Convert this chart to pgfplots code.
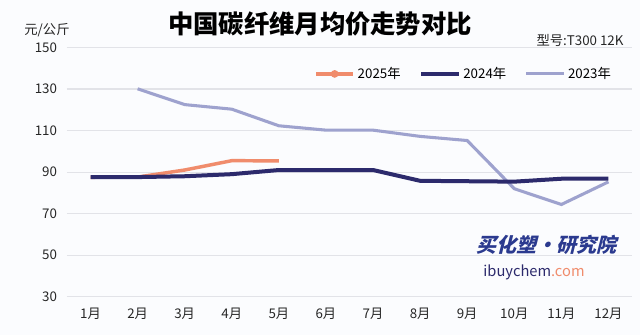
\documentclass[border=0pt]{standalone}
\usepackage{fontspec}
\setmainfont{Noto Sans CJK SC}
\usepackage{pgfplots}
\pgfplotsset{compat=1.18}
\definecolor{c25}{HTML}{F08C6C}
\definecolor{c24}{HTML}{2C2A6C}
\definecolor{c23}{HTML}{9EA2CE}
\definecolor{gridc}{HTML}{E2E3E8}
\definecolor{bg}{HTML}{FBFCFE}
\definecolor{wmblue}{HTML}{2B3A8F}
\begin{document}
\begin{tikzpicture}
\fill[bg] (0pt,0pt) rectangle (480pt,251.25pt);
\begin{axis}[
  at={(50.25pt,28.725pt)}, anchor=south west,
  width=423.75pt, height=186.9pt, scale only axis,
  xmin=0.5, xmax=12.5, ymin=30, ymax=150,
  xtick={1,...,12},
  xticklabels={1月,2月,3月,4月,5月,6月,7月,8月,9月,10月,11月,12月},
  ytick={30,50,70,90,110,130,150},
  axis line style={draw=none}, tick style={draw=none},
  ymajorgrids, grid style={gridc, line width=0.8pt},
  tick label style={font=\fontsize{10}{12}\selectfont, text=black!85},
  xticklabel style={yshift=-5pt},
  yticklabel style={xshift=-4pt},
  /pgf/number format/assume math mode=true,
  legend style={at={(0.975,0.894)}, anchor=east, draw=none, fill=none,
    font=\fontsize{10}{12}\selectfont, legend columns=3,
    /tikz/every even column/.append style={column sep=12pt}},
  legend image code/.code={\draw[mark repeat=2,mark phase=2,#1] plot coordinates {(0pt,0pt) (14pt,0pt) (28pt,0pt)};},
]
\addlegendimage{c25, line width=2.6pt, mark=*, mark size=1.5pt}
\addlegendentry{2025年}
\addlegendimage{c24, line width=3pt}
\addlegendentry{2024年}
\addlegendimage{c23, line width=2.3pt}
\addlegendentry{2023年}
\addplot[forget plot, c23, line width=2.3pt] coordinates {
 (2,130.1) (3,122.5) (4,120.3) (5,112.3) (6,110.2) (7,110.2) (8,107.2) (9,105.2) (10,82) (11,74.4) (12,85.3)};
\addplot[forget plot, c25, line width=2.6pt] coordinates {
 (1,87.5) (2,87.6) (3,91) (4,95.5) (5,95.4)};
\addplot[forget plot, c24, line width=3pt] coordinates {
 (1,87.6) (2,87.6) (3,88) (4,89) (5,91) (6,91) (7,91) (8,85.8) (9,85.6) (10,85.4) (11,86.8) (12,86.8)};
\end{axis}
\node[font=\bfseries\fontsize{19}{22}\selectfont, text=black] at (240pt,233.5pt) {中国碳纤维月均价走势对比};
\node[font=\fontsize{10}{12}\selectfont, text=black!85] at (35.25pt,228.75pt) {元/公斤};
\node[font=\fontsize{10}{12}\selectfont, text=black!85] at (435pt,221.25pt) {型号:T300 12K};
\node[font=\bfseries\fontsize{15}{17}\selectfont, text=wmblue, xslant=0.25, transform shape] at (411pt,67.5pt) {买化塑·研究院};
\node[font=\fontsize{11}{13}\selectfont] at (400.5pt,47.25pt) {\textcolor{c24}{ibuychem}\textcolor{c25}{.com}};
\end{tikzpicture}
\end{document}
